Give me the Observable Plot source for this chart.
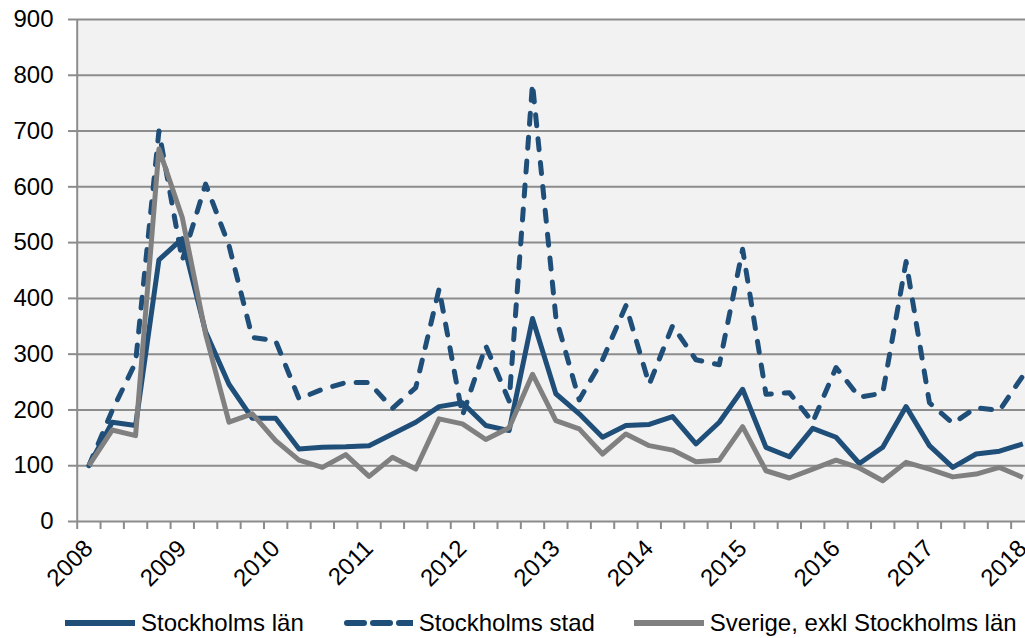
<!DOCTYPE html>
<html>
<head>
<meta charset="utf-8">
<script src="https://cdn.jsdelivr.net/npm/d3@7"></script>
<script src="https://cdn.jsdelivr.net/npm/@observablehq/plot@0.6"></script>
<style>
  html, body { margin: 0; padding: 0; background: #fff; overflow: hidden; }
  body { font-family: "Liberation Sans", Arial, sans-serif; }
  #legend { display: flex; align-items: center; height: 38px; padding-left: 65px; padding-top: 4px;
            font-size: 24px; color: #000; white-space: nowrap; }
  .item { display: flex; align-items: center; margin-right: 39px; }
  .item svg { margin-right: 6px; display: block; }
</style>
</head>
<body>
<div id="chart"></div>
<div id="legend"></div>
<script>
// Quarterly values, 2008 K1 – 2018 K1
const startYear = 2008;
const years = [2008, 2009, 2010, 2011, 2012, 2013, 2014, 2015, 2016, 2017, 2018];
const yTicks = [0, 100, 200, 300, 400, 500, 600, 700, 800, 900];

const lan = [100, 178, 172, 469, 507, 340, 246, 185, 185, 130,
             133, 134, 136, 157, 178, 206, 213, 172, 163, 364,
             229, 193, 151, 172, 174, 188, 139, 178, 237, 133,
             116, 167, 151, 104, 133, 206, 136, 97, 121, 126,
             139];
const stad = [100, 199, 285, 700, 468, 605, 495, 330, 324, 220,
              237, 249, 249, 203, 240, 417, 190, 315, 216, 785,
              366, 218, 290, 387, 246, 351, 290, 281, 488, 228,
              231, 178, 276, 223, 230, 466, 213, 176, 204, 199,
              261];
const sverige = [100, 164, 154, 668, 545, 336, 178, 193, 145, 110,
                 97, 120, 81, 115, 94, 184, 175, 147, 168, 264,
                 181, 166, 121, 157, 136, 128, 107, 110, 170, 91,
                 78, 94, 110, 96, 73, 106, 94, 80, 85, 97,
                 79];

const seriesNames = ["Stockholms län", "Stockholms stad", "Sverige, exkl Stockholms län"];
const seriesColors = ["#1F4E79", "#1F4E79", "#808080"];
const seriesDash = [null, "11,13", null];

const n = lan.length;
const periods = d3.range(n).map(i => ({i, year: startYear + Math.floor(i / 4), q: (i % 4) + 1}));
const yearIdx = periods.filter(p => p.q === 1 && years.includes(p.year)).map(p => p.i);
const boundaries = d3.range(n + 1).map(i => i - 0.5);

const data = [lan, stad, sverige].map((vals, s) =>
  vals.map((v, i) => ({i, v, s: seriesNames[s]})));

const grid = "#8C8C8C";

const chart = Plot.plot({
  width: 1025,
  height: 600,
  marginLeft: 77,
  marginRight: 0,
  marginTop: 19,
  marginBottom: 79,
  style: {fontFamily: "Liberation Sans, Arial, sans-serif", fontSize: "24px", color: "#000", background: "#fff"},
  x: {type: "linear", domain: [-0.5, n - 0.5], range: [76.7, 1034]},
  y: {domain: [0, 900]},
  marks: [
    Plot.frame({fill: "#F2F2F2", stroke: null}),
    Plot.ruleY(yTicks, {stroke: grid, strokeWidth: 2}),
    Plot.ruleX([-0.5], {stroke: grid, strokeWidth: 2}),
    Plot.axisY(yTicks, {label: null, tickSize: 9, tickPadding: 15, stroke: grid, strokeWidth: 2, fill: "#000", tickFormat: d => String(d)}),
    Plot.axisX(boundaries, {label: null, tickSize: 8, stroke: grid, strokeWidth: 2, tickFormat: () => ""}),
    Plot.axisX(yearIdx, {label: null, tickSize: 0, tickPadding: 23, tickRotate: -45, fill: "#000",
                         tickFormat: i => String(periods[i].year)}),
    ...data.map((d, s) => Plot.line(d, {
      x: "i", y: "v",
      stroke: seriesColors[s], strokeWidth: 5,
      strokeDasharray: seriesDash[s] || undefined,
      strokeLinecap: seriesDash[s] ? "round" : "butt",
      strokeLinejoin: "round"
    }))
  ]
});
document.getElementById("chart").appendChild(chart);

// Legend
const legend = d3.select("#legend");
seriesNames.forEach((name, s) => {
  const item = legend.append("div").attr("class", "item");
  const sw = item.append("svg").attr("width", 70).attr("height", 12);
  sw.append("line").attr("x1", seriesDash[s] ? 4 : 0).attr("x2", 70).attr("y1", 6).attr("y2", 6)
    .attr("stroke", seriesColors[s]).attr("stroke-width", 6)
    .attr("stroke-dasharray", seriesDash[s] ? "17,9" : null)
    .attr("stroke-linecap", seriesDash[s] ? "round" : "butt");
  item.append("span").text(name);
});
</script>
</body>
</html>
